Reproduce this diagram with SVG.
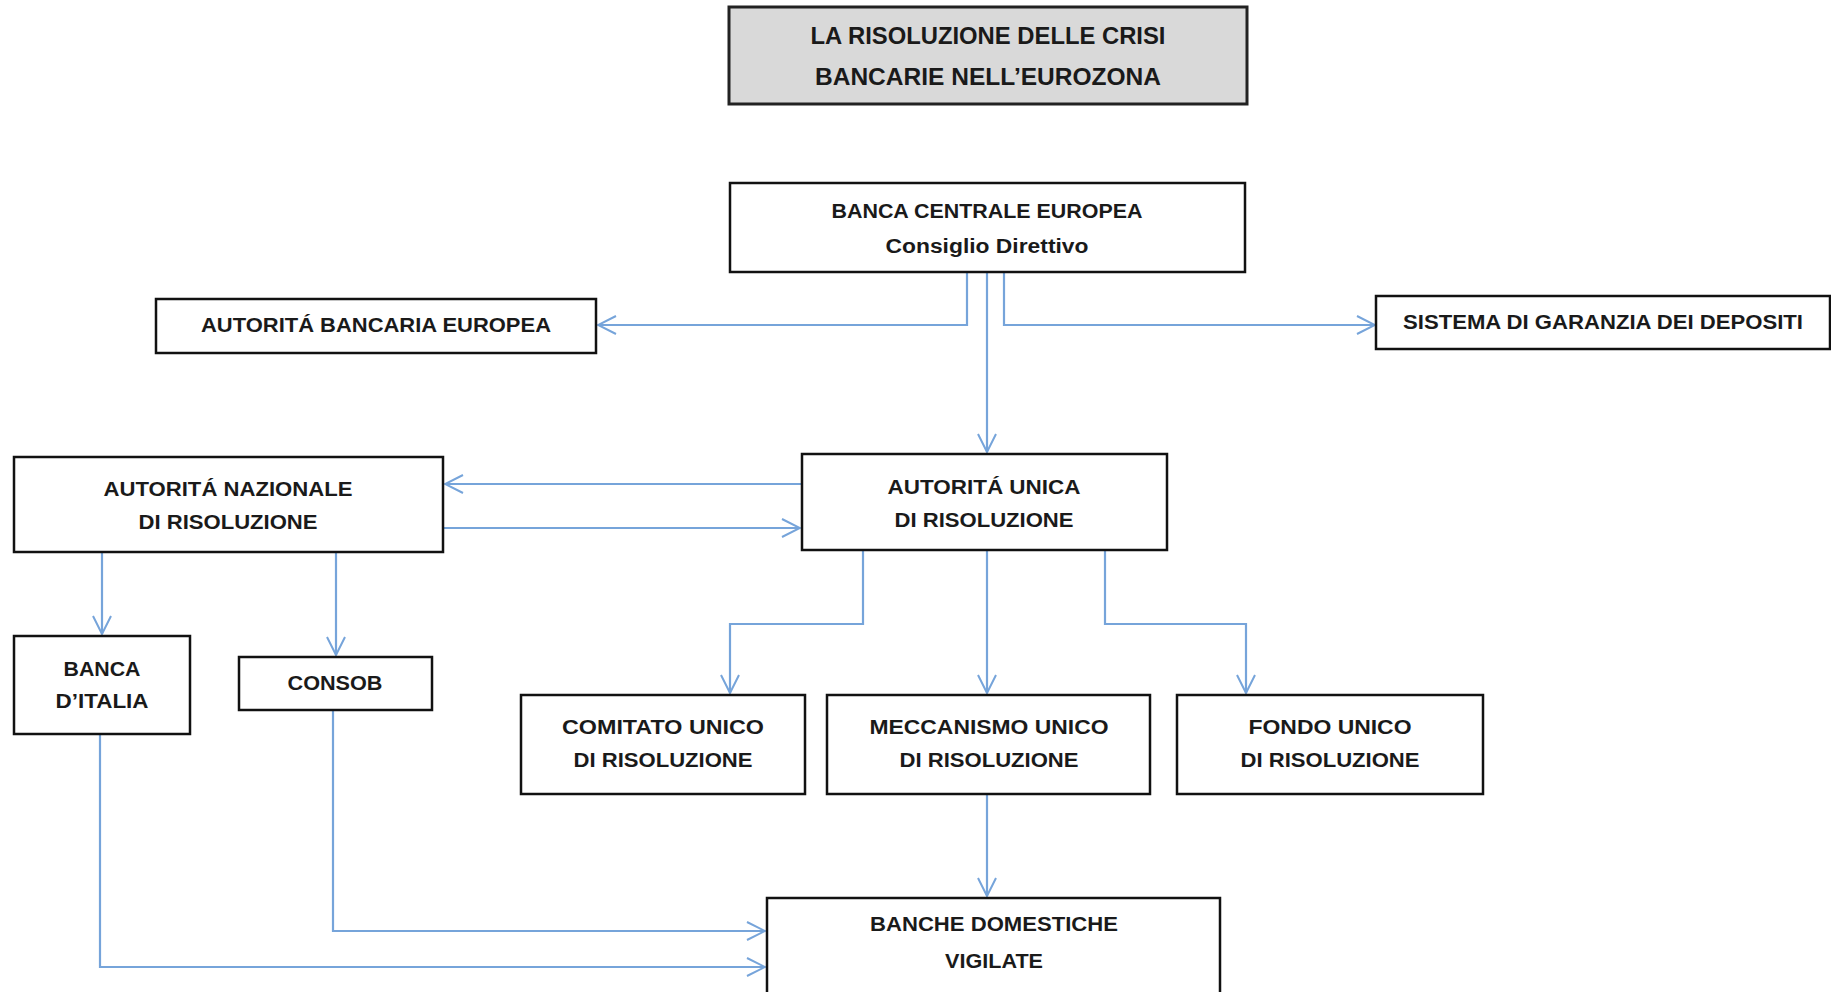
<svg xmlns="http://www.w3.org/2000/svg" width="1831" height="992" viewBox="0 0 1831 992">
<style>
.box{fill:#fff;stroke:#111;stroke-width:2.5}
.title{fill:#d9d9d9;stroke:#222;stroke-width:3}
.t{font-family:"Liberation Sans",Arial,sans-serif;font-size:20px;font-weight:bold;fill:#1a1a1a;text-anchor:middle}
.tt{font-family:"Liberation Sans",Arial,sans-serif;font-size:24px;font-weight:bold;fill:#1a1a1a;text-anchor:middle}
.c{fill:none;stroke:#76a4da;stroke-width:2.2}
</style>
<defs>
<marker id="arr" viewBox="0 0 20 20" refX="19" refY="10" markerWidth="20" markerHeight="20" markerUnits="userSpaceOnUse" orient="auto">
<path d="M1,1 L19,10 L1,19" fill="none" stroke="#76a4da" stroke-width="2"/>
</marker>
</defs>
<rect width="1831" height="992" fill="#fff"/>
<g id="connectors">
<path class="c" d="M967,272 V325 H598" marker-end="url(#arr)"/>
<path class="c" d="M1004,272 V325 H1375" marker-end="url(#arr)"/>
<path class="c" d="M987,272 V452" marker-end="url(#arr)"/>
<path class="c" d="M802,484 H445" marker-end="url(#arr)"/>
<path class="c" d="M443,528 H800" marker-end="url(#arr)"/>
<path class="c" d="M102,552 V634" marker-end="url(#arr)"/>
<path class="c" d="M336,552 V655" marker-end="url(#arr)"/>
<path class="c" d="M863,550 V624 H730 V693" marker-end="url(#arr)"/>
<path class="c" d="M987,550 V693" marker-end="url(#arr)"/>
<path class="c" d="M1105,550 V624 H1246 V693" marker-end="url(#arr)"/>
<path class="c" d="M987,794 V896" marker-end="url(#arr)"/>
<path class="c" d="M333,710 V931 H765" marker-end="url(#arr)"/>
<path class="c" d="M100,734 V967 H765" marker-end="url(#arr)"/>
</g>
<g id="title">
<rect class="title" x="729" y="7" width="518" height="97"/>
<text class="tt" x="988" y="44" textLength="355" lengthAdjust="spacingAndGlyphs">LA RISOLUZIONE DELLE CRISI</text>
<text class="tt" x="988" y="85" textLength="346" lengthAdjust="spacingAndGlyphs">BANCARIE NELL’EUROZONA</text>
</g>
<g id="bce">
<rect class="box" x="730" y="183" width="515" height="89"/>
<text class="t" x="987" y="218" textLength="311" lengthAdjust="spacingAndGlyphs">BANCA CENTRALE EUROPEA</text>
<text class="t" x="987" y="253" textLength="203" lengthAdjust="spacingAndGlyphs">Consiglio Direttivo</text>
</g>
<g id="abe">
<rect class="box" x="156" y="299" width="440" height="54"/>
<text class="t" x="376" y="332" textLength="350" lengthAdjust="spacingAndGlyphs">AUTORITÁ BANCARIA EUROPEA</text>
</g>
<g id="sgd">
<rect class="box" x="1376" y="296" width="454" height="53"/>
<text class="t" x="1603" y="329" textLength="400" lengthAdjust="spacingAndGlyphs">SISTEMA DI GARANZIA DEI DEPOSITI</text>
</g>
<g id="anr">
<rect class="box" x="14" y="457" width="429" height="95"/>
<text class="t" x="228" y="496" textLength="249" lengthAdjust="spacingAndGlyphs">AUTORITÁ NAZIONALE</text>
<text class="t" x="228" y="529" textLength="179" lengthAdjust="spacingAndGlyphs">DI RISOLUZIONE</text>
</g>
<g id="aur">
<rect class="box" x="802" y="454" width="365" height="96"/>
<text class="t" x="984" y="494" textLength="193" lengthAdjust="spacingAndGlyphs">AUTORITÁ UNICA</text>
<text class="t" x="984" y="527" textLength="179" lengthAdjust="spacingAndGlyphs">DI RISOLUZIONE</text>
</g>
<g id="bdi">
<rect class="box" x="14" y="636" width="176" height="98"/>
<text class="t" x="102" y="676" textLength="77" lengthAdjust="spacingAndGlyphs">BANCA</text>
<text class="t" x="102" y="708" textLength="93" lengthAdjust="spacingAndGlyphs">D’ITALIA</text>
</g>
<g id="consob">
<rect class="box" x="239" y="657" width="193" height="53"/>
<text class="t" x="335" y="690" textLength="95" lengthAdjust="spacingAndGlyphs">CONSOB</text>
</g>
<g id="cur">
<rect class="box" x="521" y="695" width="284" height="99"/>
<text class="t" x="663" y="734" textLength="202" lengthAdjust="spacingAndGlyphs">COMITATO UNICO</text>
<text class="t" x="663" y="767" textLength="179" lengthAdjust="spacingAndGlyphs">DI RISOLUZIONE</text>
</g>
<g id="mur">
<rect class="box" x="827" y="695" width="323" height="99"/>
<text class="t" x="989" y="734" textLength="239" lengthAdjust="spacingAndGlyphs">MECCANISMO UNICO</text>
<text class="t" x="989" y="767" textLength="179" lengthAdjust="spacingAndGlyphs">DI RISOLUZIONE</text>
</g>
<g id="fur">
<rect class="box" x="1177" y="695" width="306" height="99"/>
<text class="t" x="1330" y="734" textLength="163" lengthAdjust="spacingAndGlyphs">FONDO UNICO</text>
<text class="t" x="1330" y="767" textLength="179" lengthAdjust="spacingAndGlyphs">DI RISOLUZIONE</text>
</g>
<g id="bdv">
<rect class="box" x="767" y="898" width="453" height="100"/>
<text class="t" x="994" y="931" textLength="248" lengthAdjust="spacingAndGlyphs">BANCHE DOMESTICHE</text>
<text class="t" x="994" y="968" textLength="98" lengthAdjust="spacingAndGlyphs">VIGILATE</text>
</g>
</svg>
